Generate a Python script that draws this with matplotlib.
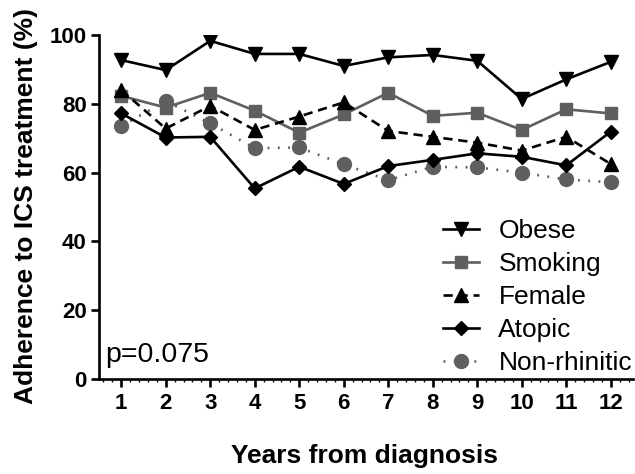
import matplotlib
matplotlib.use("Agg")
import matplotlib.pyplot as plt
from matplotlib.ticker import MultipleLocator

years = list(range(1, 13))
obese = [92.7, 89.8, 98.3, 94.5, 94.5, 91.0, 93.5, 94.2, 92.5, 81.4, 87.1, 92.2]
smoking = [82.3, 78.9, 83.2, 78.0, 71.6, 76.9, 83.2, 76.5, 77.4, 72.4, 78.4, 77.2]
female = [84.0, 72.8, 79.4, 72.4, 76.3, 80.4, 72.1, 70.4, 68.7, 66.4, 70.4, 62.5]
atopic = [77.2, 70.2, 70.4, 55.4, 61.7, 56.7, 61.9, 63.7, 65.6, 64.6, 62.1, 71.9]
nonrhinitic = [73.5, 80.8, 74.3, 67.1, 67.3, 62.4, 57.8, 61.7, 61.5, 60.0, 58.0, 57.2]
y_ticks = [0, 20, 40, 60, 80, 100]

plt.rcParams['font.family'] = ['Liberation Sans', 'DejaVu Sans']

W, H = 635, 474
fig = plt.figure(figsize=(W / 100, H / 100), dpi=100)
ax = fig.add_axes([99/W, 1-379/H, (633-99)/W, (379-35)/H])

black = '#000000'
gray = '#5f5f5f'
lw = 1.9

ax.plot(years, obese, color=black, lw=lw, marker='v', ms=10.5, label='Obese', zorder=5)
ax.plot(years, smoking, color=gray, lw=lw, marker='s', ms=9, label='Smoking', zorder=4)
ax.plot(years, female, color=black, lw=lw, ls=(0, (3.5, 2.2)), marker='^', ms=10.5,
        label='Female', zorder=6)
ax.plot(years, atopic, color=black, lw=lw, marker='D', ms=7.5, label='Atopic', zorder=7)
ax.plot(years, nonrhinitic, color=gray, lw=lw, ls=(0, (0.7, 3.2)), marker='o', ms=10,
        label='Non-rhinitic', zorder=3)

ax.set_xlim(0.5, 12.5)
ax.set_ylim(0, 100)
ax.set_xticks(years)
ax.set_yticks(y_ticks)
ax.xaxis.set_minor_locator(MultipleLocator(0.2))

for s in ['top', 'right']:
    ax.spines[s].set_visible(False)
for s in ['left', 'bottom']:
    ax.spines[s].set_linewidth(1.9)

ax.tick_params(axis='both', which='major', length=6, width=1.9, labelsize=16, pad=3)
ax.tick_params(axis='x', which='major', pad=4)
ax.tick_params(axis='x', which='minor', length=2.5, width=1.0)
for lab in ax.get_xticklabels() + ax.get_yticklabels():
    lab.set_fontweight('bold')

fig.text(26/W, 1-205.5/H, 'Adherence to ICS treatment (%)', fontsize=19, fontweight='bold',
         rotation=90, ha='center', va='center')
fig.text(364/W, 1-463/H, 'Years from diagnosis', fontsize=19, fontweight='bold',
         ha='center', va='baseline')

fig.text(105/W, 1-362/H, 'p=0.075', fontsize=20.5, ha='left', va='baseline')

leg = ax.legend(loc='lower right', bbox_to_anchor=(632/W, 1-(379-4)/H),
                bbox_transform=fig.transFigure, frameon=False,
                fontsize=19, handlelength=1.35, handletextpad=0.75,
                labelspacing=0.34, borderaxespad=0.0, borderpad=0.0)

fig.savefig('out.png', dpi=100)
